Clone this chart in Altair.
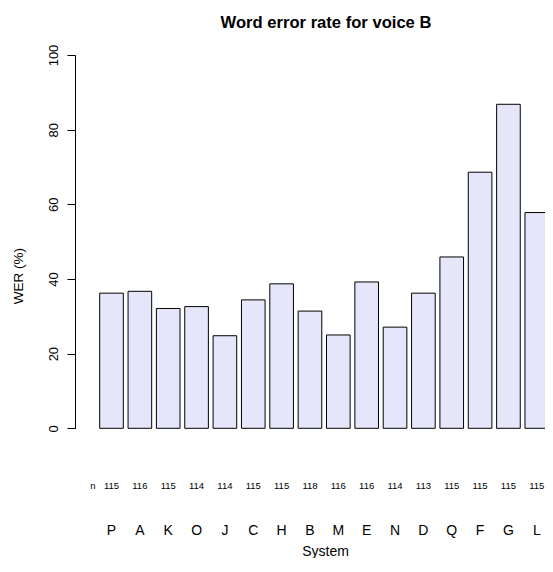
import altair as alt
import pandas as pd

systems = ["P", "A", "K", "O", "J", "C", "H", "B", "M", "E", "N", "D", "Q", "F", "G", "L"]
wer = [36.2, 36.7, 32.1, 32.6, 24.8, 34.4, 38.7, 31.4, 25.0, 39.2, 27.1, 36.2, 45.9, 68.6, 86.8, 57.8]
counts = [115, 116, 115, 114, 114, 115, 115, 118, 116, 116, 114, 113, 115, 115, 115, 115]
y_ticks = [0, 20, 40, 60, 80, 100]

df = pd.DataFrame({"System": systems, "WER": wer, "n": [str(c) for c in counts]})

FONT = "Liberation Sans"
W = 470
H = 373.3

xscale = alt.Scale(domain=systems, range=[0, 498.3], paddingInner=1/6, paddingOuter=0.871)

bars = alt.Chart(df).mark_bar(
    fill="#E6E6FA", stroke="black", strokeWidth=1
).encode(
    x=alt.X("System:N", scale=xscale, sort=systems,
            axis=alt.Axis(title="System", domain=False, ticks=False, labelAngle=0,
                          labelFont=FONT, labelFontSize=14, labelColor="black",
                          labelBaseline="alphabetic", labelPadding=106,
                          titleFont=FONT, titleFontSize=14, titleFontWeight="normal",
                          titleColor="black", titleY=126.7, titleBaseline="alphabetic",
                          titleX=250)),
    y=alt.Y("WER:Q", scale=alt.Scale(domain=[0, 100], nice=False),
            axis=alt.Axis(title="WER (%)", values=y_ticks, grid=False,
                          domainColor="black", tickColor="black", tickSize=8,
                          labelAngle=270, labelAlign="center", labelBaseline="alphabetic",
                          labelPadding=10, labelFont=FONT, labelFontSize=13,
                          labelColor="black",
                          titleFont=FONT, titleFontSize=13.5, titleFontWeight="normal",
                          titleColor="black", titleX=-52.3, titleY=220.5,
                          titleBaseline="alphabetic", titleAlign="center")),
)

ntext = alt.Chart(df).mark_text(
    font=FONT, fontSize=9.5, color="black", baseline="alphabetic"
).encode(
    x=alt.X("System:N", scale=xscale, sort=systems),
    y=alt.value(434),
    text="n:N",
)

nlabel = alt.Chart(pd.DataFrame({"System": ["P"]})).mark_text(
    text="n", font=FONT, fontSize=9.5, color="black", baseline="alphabetic", dx=-18.5
).encode(
    x=alt.X("System:N", scale=xscale, sort=systems),
    y=alt.value(434),
)

chart = alt.layer(bars, ntext, nlabel).properties(
    width=W, height=H,
    padding={"left": 67, "top": 47, "right": 0, "bottom": 129.7},
    autosize="none",
    background="white",
    title=alt.TitleParams("Word error rate for voice B", font=FONT, fontSize=16.6,
                          fontWeight="bold", color="black", anchor="middle",
                          frame="group", offset=0, dx=16, baseline="alphabetic"),
).configure_view(strokeWidth=0, stroke="transparent")

chart.save("out.html", embed_options={"renderer": "svg", "actions": False})
